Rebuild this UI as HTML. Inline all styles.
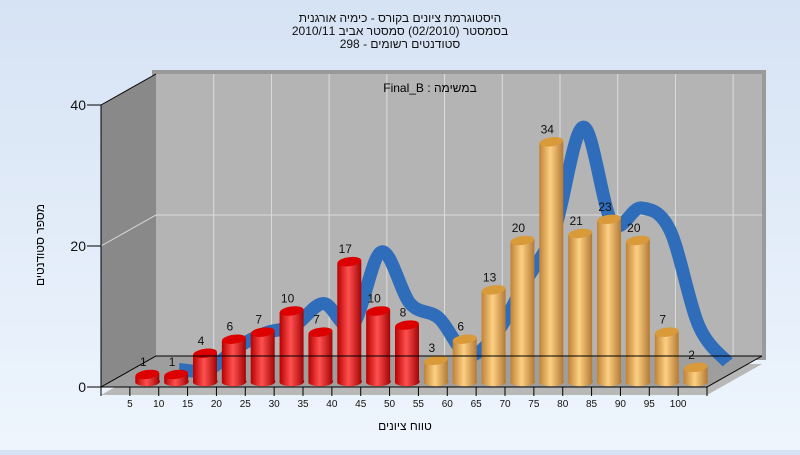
<!DOCTYPE html>
<html><head><meta charset="utf-8"><style>
html,body{margin:0;padding:0}
body{width:800px;height:450px;overflow:hidden;background:linear-gradient(#d6e3f4,#eef5fd);font-family:"Liberation Sans",sans-serif}
svg text{font-family:"Liberation Sans","Noto Sans CJK JP",sans-serif}
</style></head><body>
<svg id="chart" width="800" height="450" viewBox="0 0 800 450" xmlns="http://www.w3.org/2000/svg">
<defs>
<linearGradient id="gRed" x1="0" x2="1"><stop offset="0" stop-color="#b80000"/><stop offset="0.45" stop-color="#ff5050"/><stop offset="1" stop-color="#a00000"/></linearGradient>
<linearGradient id="gOr" x1="0" x2="1"><stop offset="0" stop-color="#c08236"/><stop offset="0.45" stop-color="#fdd083"/><stop offset="1" stop-color="#b07530"/></linearGradient>
</defs>
<g font-size="12" text-anchor="middle" fill="#111">
<text x="400" y="22">היסטוגרמת ציונים בקורס - כימיה אורגנית</text>
<text x="400" y="35">בסמסטר  (02/2010)  סמסטר אביב 2010/11</text>
<text x="400" y="48">סטודנטים רשומים - 298</text>
</g>
<g id="walls"></g>
<g id="ribbon"></g>
<g id="bars"></g>
<g id="axes"></g>
<text x="430" y="92" font-size="12" text-anchor="middle">Final_B : במשימה</text>
<text transform="translate(44,245) rotate(-90)" font-size="12" text-anchor="middle">מספר סטודנטים</text>
<text x="405" y="430" font-size="12" text-anchor="middle">טווח ציונים</text>
</svg>
<script>
const categories=["5","10","15","20","25","30","35","40","45","50","55","60","65","70","75","80","85","90","95","100"];
const counts=[1,1,4,6,7,10,7,17,10,8,3,6,13,20,34,21,23,20,7,2];
const trend=[1,1,4,6,7,10,7,17,10,8,3,6,13,20,34,21,23,20,7,2];
const yTicks=[0,20,40];
const redCount=10;
const NS="http://www.w3.org/2000/svg";
const X0=101,X1=707,DX=55,DY=-31,Y0=387,YT=105,YMAX=40;
const step=(X1-X0)/21;
function xs(i){return X0+step*(i+1.5)+3;}
function ys(v){return Y0-(v/YMAX)*(Y0-YT);}
function mk(tag,attrs,parent){const e=document.createElementNS(NS,tag);for(const k in attrs)e.setAttribute(k,attrs[k]);parent.appendChild(e);return e;}
const walls=document.getElementById('walls');
let p=mk('polygon',{points:`${X0},${Y0+8} ${X0+DX},${Y0+8+DY} ${X1+DX},${Y0+8+DY} ${X1},${Y0+8}`,fill:'#b8b8b8'},walls);

p=mk('polygon',{points:`${X0+DX-4},${YT+DY-4} ${X1+DX+4},${YT+DY-4} ${X1+DX+4},${Y0+DY+4} ${X0+DX-4},${Y0+DY+4}`,fill:'#9a9a9a'},walls);

p=mk('polygon',{points:`${X0},${YT} ${X0+DX},${YT+DY} ${X0+DX},${Y0+DY} ${X0},${Y0}`,fill:'#898989'},walls);

p=mk('rect',{x:X0+DX,y:YT+DY,width:X1-X0,height:Y0-YT,fill:'#b4b4b4'},walls);

p=mk('polygon',{points:`${X0},${Y0} ${X0+DX},${Y0+DY} ${X1+DX},${Y0+DY} ${X1},${Y0}`,fill:'#9e9e9e'},walls);

for(let k=2;k<=20;k+=2){const x=X0+step*k+DX;
 const l=mk('line',{x1:x,y1:YT+DY,x2:x,y2:Y0+DY,stroke:'#dcdcdc','stroke-width':1},walls);
 }
yTicks.slice(1,-1).forEach(v=>{const y=ys(v);
 let l=mk('polyline',{points:`${X0},${y} ${X0+DX},${y+DY} ${X1+DX},${y+DY}`,fill:'none',stroke:'#dcdcdc'},walls);
 });
// ribbon
const rib=document.getElementById('ribbon');
const pts=trend.map((v,i)=>[xs(i)+32,377-v*7.35]);
let d=`M${pts[0][0]},${pts[0][1]}`;
for(let i=0;i<pts.length-1;i++){const a=pts[Math.max(i-1,0)],b=pts[i],c=pts[i+1],e=pts[Math.min(i+2,pts.length-1)];
 d+=` C${b[0]+(c[0]-a[0])/6},${b[1]+(c[1]-a[1])/6} ${c[0]-(e[0]-b[0])/6},${c[1]-(e[1]-b[1])/6} ${c[0]},${c[1]}`;}
const rp=mk('path',{d:d,fill:'none',stroke:'#2f6cb9','stroke-width':13,'stroke-linejoin':'round'},rib);

// bars
const bars=document.getElementById('bars');
const BW=24,RY=4.5,BB=383;
counts.forEach((v,i)=>{const cx=xs(i);const top=BB-(v/YMAX)*(Y0-YT);const red=i<redCount;
 const g=mk('g',{},bars);
 
 mk('path',{d:`M${cx-BW/2},${top} L${cx-BW/2},${BB} A${BW/2},${RY} 0 0 0 ${cx+BW/2},${BB-3} L${cx+BW/2},${top-3} Z`,fill:red?'url(#gRed)':'url(#gOr)'},g);
 mk('ellipse',{cx:cx,cy:top-1.5,rx:BW/2,ry:RY,fill:red?'#dd0000':'#d99a3a',transform:`rotate(-8 ${cx} ${top-1.5})`},g);
 const t=mk('text',{x:cx-4,y:top-10,'font-size':12,'text-anchor':'middle',fill:'#111'},g);t.textContent=v;
 
});
// axes
const ax=document.getElementById('axes');
const st={stroke:'#000','stroke-width':1,fill:'none'};
let l=mk('polyline',Object.assign({points:`${X0},${YT} ${X0},${Y0} ${X1},${Y0} ${X1+DX},${Y0+DY}`},st),ax);

l=mk('polyline',Object.assign({points:`${X0},${Y0} ${X0+DX},${Y0+DY} ${X1+DX},${Y0+DY}`},st),ax);

l=mk('line',Object.assign({x1:X0,y1:YT,x2:X0+DX,y2:YT+DY},st),ax);

yTicks.forEach(v=>{const y=ys(v);
 const tk=mk('line',Object.assign({x1:X0-14,y1:y,x2:X0,y2:y},st),ax);
 
 const t=mk('text',{x:X0-15,y:y+5,'font-size':14,'text-anchor':'end',fill:'#111'},ax);t.textContent=v;
 });
for(let k=0;k<=21;k++){const x=X0+step*k;
 const tk=mk('line',Object.assign({x1:x,y1:Y0,x2:x,y2:Y0+9},st),ax);
 }
categories.forEach((c,i)=>{const x=X0+step*(i+1);
 const t=mk('text',{x:x,y:407,'font-size':10,'text-anchor':'middle',fill:'#111'},ax);t.textContent=c;
 });
</script>
</body></html>
